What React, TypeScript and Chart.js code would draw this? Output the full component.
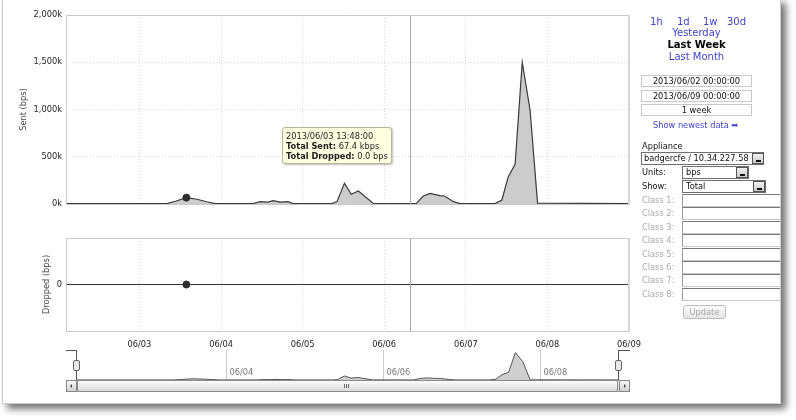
import React, { useEffect, useRef } from 'react';
import { Chart, registerables } from 'chart.js';

Chart.register(...registerables);

// ---------------- data ----------------
const dayLabels = ['06/02', '06/03', '06/04', '06/05', '06/06', '06/07', '06/08', '06/09'];
const dayTickHours = [24, 48, 72, 96, 120, 144, 168];
const navTickHours = [48, 96, 144];
const sentTicks = [0, 500, 1000, 1500, 2000];
const droppedTicks = [0];

// hours since 2013/06/02 00:00
const sentHours = [2.4, 32.1, 34.8, 37.8, 40.9, 43.8, 46.3, 57.4, 59.5, 61.8, 63.3, 65.4, 67.7, 69.2, 80.6, 82.1, 84.3, 86.3, 88.4, 92.8, 105.4, 107.5, 109.5, 112.4, 113.7, 116.4, 118.3, 128.6, 130.6, 132.5, 134.5, 136.6, 138.9, 141.1, 168];
// kbps
const sentKbps = [4, 4, 32, 67.4, 50, 24, 4, 4, 25, 20, 35, 20, 25, 4, 4, 25, 219, 103, 138, 7, 4, 85, 113, 88, 85, 25, 4, 4, 42, 289, 420, 1499, 995, 10, 4];

const droppedHours = [2.4, 168];
const droppedBps = [0, 0];

const hoverHour = 37.8;
const hoverSent = 67.4;
const hoverDropped = 0;
const cursorHour = 103.7;
const rangeStart = 2.4;
const rangeEnd = 168;

const timeLinks = ['1h', '1d', '1w', '30d'];
const periodLinks = ['Yesterday', 'Last Week', 'Last Month'];
const rangeBoxes = ['2013/06/02 00:00:00', '2013/06/09 00:00:00', '1 week'];
const classLabels = ['Class 1:', 'Class 2:', 'Class 3:', 'Class 4:', 'Class 5:', 'Class 6:', 'Class 7:', 'Class 8:'];

const FONT = '"DejaVu Sans", Verdana, sans-serif';

const framePlugin = {
  id: 'frame',
  afterDraw(chart: any) {
    const { ctx, chartArea: a } = chart;
    ctx.save();
    ctx.strokeStyle = '#c9c9c9';
    ctx.lineWidth = 1;
    ctx.beginPath();
    ctx.moveTo(Math.round(a.left) + 0.5, a.bottom);
    ctx.lineTo(Math.round(a.left) + 0.5, Math.round(a.top) + 0.5);
    ctx.lineTo(a.right, Math.round(a.top) + 0.5);
    ctx.stroke();
    ctx.beginPath();
    ctx.moveTo(a.left, Math.round(a.bottom) + 0.5);
    ctx.lineTo(a.right, Math.round(a.bottom) + 0.5);
    ctx.stroke();
    ctx.strokeStyle = '#d6d6d6';
    ctx.lineWidth = 2;
    ctx.beginPath();
    ctx.moveTo(Math.round(a.right), a.top);
    ctx.lineTo(Math.round(a.right), a.bottom + 1);
    ctx.stroke();
    ctx.restore();
  },
};

const cursorPlugin = {
  id: 'cursorLine',
  afterDatasetsDraw(chart: any) {
    const { ctx, chartArea: a, scales } = chart;
    const x = Math.round(scales.x.getPixelForValue(cursorHour)) + 0.5;
    ctx.save();
    ctx.strokeStyle = '#ababab';
    ctx.lineWidth = 1;
    ctx.beginPath();
    ctx.moveTo(x, a.top);
    ctx.lineTo(x, a.bottom);
    ctx.stroke();
    ctx.restore();
  },
};

const navPlugin = {
  id: 'navTicks',
  beforeDatasetsDraw(chart: any) {
    const { ctx, chartArea: a, scales } = chart;
    ctx.save();
    navTickHours.forEach((h) => {
      const px = Math.round(scales.x.getPixelForValue(h)) + 0.5;
      ctx.strokeStyle = '#cccccc';
      ctx.lineWidth = 1;
      ctx.beginPath();
      ctx.moveTo(px, a.top + 2);
      ctx.lineTo(px, a.bottom);
      ctx.stroke();
      ctx.fillStyle = '#7a7a7a';
      ctx.font = '8.25px ' + FONT;
      ctx.textBaseline = 'middle';
      ctx.fillText(dayLabels[h / 24], px + 3, a.top + 25);
    });
    ctx.restore();
  },
};

const pts = (xs: number[], ys: number[]) => xs.map((x, i) => ({ x, y: ys[i] }));

const dayGridX = (showLabels: boolean, bottomHeight: number) => ({
  type: 'linear' as const,
  min: rangeStart,
  max: rangeEnd,
  afterBuildTicks: (s: any) => {
    s.ticks = dayTickHours.map((v) => ({ value: v }));
  },
  afterFit: (s: any) => {
    s.height = bottomHeight;
  },
  ticks: {
    display: showLabels,
    autoSkip: false,
    maxRotation: 0,
    padding: 9,
    color: '#222',
    font: { family: FONT, size: 8.25 },
    callback: (v: any) => dayLabels[Math.round(v / 24)],
  },
  grid: { color: '#dadada', drawTicks: false, lineWidth: 1 },
  border: { display: false, dash: [1, 2] },
});

export default function App() {
  const topRef = useRef<HTMLCanvasElement>(null);
  const botRef = useRef<HTMLCanvasElement>(null);
  const navRef = useRef<HTMLCanvasElement>(null);

  useEffect(() => {
    const top = new Chart(topRef.current as HTMLCanvasElement, {
      type: 'line',
      data: {
        datasets: [
          {
            data: [{ x: hoverHour, y: hoverSent }],
            showLine: false,
            pointRadius: 3.5,
            pointBackgroundColor: '#2e2e2e',
            pointBorderColor: '#2e2e2e',
          },
          {
            data: pts(sentHours, sentKbps),
            fill: 'origin',
            backgroundColor: '#cccccc',
            borderColor: '#3a3a3a',
            borderWidth: 1.2,
            pointRadius: 0,
            tension: 0,
          },
        ],
      },
      options: {
        animation: false,
        responsive: false,
        events: [],
        layout: { padding: { top: 15, right: 21, left: 0, bottom: 0 } },
        plugins: { legend: { display: false }, tooltip: { enabled: false } },
        scales: {
          x: dayGridX(false, 11) as any,
          y: {
            min: 0,
            max: 2000,
            afterBuildTicks: (s: any) => {
              s.ticks = sentTicks.map((v) => ({ value: v }));
            },
            afterFit: (s: any) => {
              s.width = 66;
            },
            ticks: {
              padding: 4,
              color: '#222',
              font: { family: FONT, size: 8.25 },
              callback: (v: any) => Number(v).toLocaleString('en-US') + 'k',
            },
            grid: { color: '#dadada', drawTicks: false },
            border: { display: false, dash: [1, 2] },
            title: {
              display: true,
              text: 'Sent (bps)',
              color: '#444',
              font: { family: FONT, size: 8.25 },
              padding: { top: 19, bottom: 0 },
            },
          },
        },
      },
      plugins: [framePlugin, cursorPlugin],
    });

    const bot = new Chart(botRef.current as HTMLCanvasElement, {
      type: 'line',
      data: {
        datasets: [
          {
            data: [{ x: hoverHour, y: hoverDropped }],
            showLine: false,
            pointRadius: 3.5,
            pointBackgroundColor: '#2e2e2e',
            pointBorderColor: '#2e2e2e',
          },
          {
            data: pts(droppedHours, droppedBps),
            borderColor: '#333',
            borderWidth: 1.2,
            pointRadius: 0,
            fill: false,
          },
        ],
      },
      options: {
        animation: false,
        responsive: false,
        events: [],
        layout: { padding: { top: 18, right: 21, left: 0, bottom: 0 } },
        plugins: { legend: { display: false }, tooltip: { enabled: false } },
        scales: {
          x: dayGridX(true, 24) as any,
          y: {
            min: -1,
            max: 1,
            afterBuildTicks: (s: any) => {
              s.ticks = droppedTicks.map((v) => ({ value: v }));
            },
            afterFit: (s: any) => {
              s.width = 66;
            },
            ticks: {
              padding: 4,
              color: '#222',
              font: { family: FONT, size: 8.25 },
              callback: (v: any) => String(v),
            },
            grid: { color: '#dadada', drawTicks: false },
            border: { display: false, dash: [1, 2] },
            title: {
              display: true,
              text: 'Dropped (bps)',
              color: '#444',
              font: { family: FONT, size: 8.25 },
              padding: { top: 42, bottom: 0 },
            },
          },
        },
      },
      plugins: [framePlugin, cursorPlugin],
    });

    const nav = new Chart(navRef.current as HTMLCanvasElement, {
      type: 'line',
      data: {
        datasets: [
          {
            data: pts(sentHours, sentKbps),
            fill: 'origin',
            backgroundColor: '#cfcfcf',
            borderColor: '#555',
            borderWidth: 1,
            pointRadius: 0,
            tension: 0,
          },
        ],
      },
      options: {
        animation: false,
        responsive: false,
        events: [],
        layout: { padding: 0 },
        plugins: { legend: { display: false }, tooltip: { enabled: false } },
        scales: {
          x: { type: 'linear', display: false, min: rangeStart, max: rangeEnd },
          y: { display: false, min: 0, max: 1750 },
        },
      },
      plugins: [navPlugin],
    });

    return () => {
      top.destroy();
      bot.destroy();
      nav.destroy();
    };
  }, []);

  const abs = (l: number, t: number, extra: any = {}) => ({ position: 'absolute' as const, left: l, top: t, ...extra });
  const small = { fontSize: '8.25px', lineHeight: '10px', whiteSpace: 'nowrap' as const };
  const linkColor = '#4242c6';

  const DropBtn = ({ l, t }: { l: number; t: number }) => (
    <div
      style={abs(l, t, {
        width: 12,
        height: 11,
        boxSizing: 'border-box',
        border: '1px solid #555',
        background: 'linear-gradient(#f2f2f2, #c9c9c9)',
      })}
    >
      <div style={abs(3, 6, { width: 5, height: 2, background: '#111' })} />
    </div>
  );

  return (
    <div
      style={{
        position: 'fixed',
        left: 0,
        top: 0,
        width: 796,
        height: 420,
        overflow: 'hidden',
        background: '#fff',
        fontFamily: FONT,
        color: '#111',
      }}
    >
      <div
        style={abs(2, -2, {
          width: 777,
          height: 404,
          border: '1px solid #cdcdcd',
          background: '#fff',
          boxShadow: '5px 5px 7px rgba(0,0,0,0.55)',
        })}
      />
      <canvas ref={topRef} width={650} height={215} style={abs(0, 0, { width: 650, height: 215 })} />
      <canvas ref={botRef} width={650} height={135} style={abs(0, 220, { width: 650, height: 135 })} />
      <canvas ref={navRef} width={541} height={32} style={abs(77, 348, { width: 541, height: 32 })} />

      {/* navigator brackets */}
      <div style={abs(66, 350, { width: 11, height: 1, background: '#555' })} />
      <div style={abs(76, 350, { width: 1, height: 31, background: '#555' })} />
      <div style={abs(73, 360, { width: 7, height: 11, boxSizing: 'border-box', border: '1px solid #666', borderRadius: 2, background: '#e8e8e8' })} />
      <div style={abs(618, 350, { width: 12, height: 1, background: '#555' })} />
      <div style={abs(618, 350, { width: 1, height: 31, background: '#555' })} />
      <div style={abs(615, 360, { width: 7, height: 11, boxSizing: 'border-box', border: '1px solid #666', borderRadius: 2, background: '#e8e8e8' })} />

      {/* scrollbar */}
      <div style={abs(66, 380, { width: 564, height: 12, boxSizing: 'border-box', border: '1px solid #9a9a9a', background: 'linear-gradient(#f3f3f3, #d6d6d6)' })} />
      <div style={abs(66, 380, { width: 11, height: 12, boxSizing: 'border-box', border: '1px solid #888', borderRadius: 2, background: 'linear-gradient(#fafafa, #d0d0d0)' })}>
        <div style={abs(3, 3, { width: 0, height: 0, borderTop: '2px solid transparent', borderBottom: '2px solid transparent', borderRight: '2px solid #444' })} />
      </div>
      <div style={abs(77, 380, { width: 541, height: 12, boxSizing: 'border-box', border: '1px solid #8a8a8a', borderRadius: 2, background: 'linear-gradient(#fcfcfc, #dadada)' })}>
        <div style={abs(266, 3, { width: 1, height: 4, background: '#666' })} />
        <div style={abs(268, 3, { width: 1, height: 4, background: '#666' })} />
        <div style={abs(270, 3, { width: 1, height: 4, background: '#666' })} />
      </div>
      <div style={abs(619, 380, { width: 11, height: 12, boxSizing: 'border-box', border: '1px solid #888', borderRadius: 2, background: 'linear-gradient(#fafafa, #d0d0d0)' })}>
        <div style={abs(4, 3, { width: 0, height: 0, borderTop: '2px solid transparent', borderBottom: '2px solid transparent', borderLeft: '2px solid #444' })} />
      </div>

      {/* tooltip */}
      <div
        style={abs(282, 127, {
          width: 110,
          height: 37,
          boxSizing: 'border-box',
          border: '1px solid #b9b596',
          borderRadius: 3,
          background: '#ffffe2',
          boxShadow: '1px 1px 2px rgba(0,0,0,0.25)',
          padding: '3px 0 0 3px',
          ...small,
          color: '#222',
        })}
      >
        <div>2013/06/03 13:48:00</div>
        <div>
          <b>Total Sent:</b> {hoverSent.toFixed(1)} kbps
        </div>
        <div>
          <b>Total Dropped:</b> {hoverDropped.toFixed(1)} bps
        </div>
      </div>

      {/* right panel */}
      {timeLinks.map((t, i) => (
        <div key={t} style={abs([650, 677, 703, 727][i], 16, { fontSize: 10, lineHeight: '12px', color: linkColor, whiteSpace: 'nowrap' })}>
          {t}
        </div>
      ))}
      {periodLinks.map((t, i) => (
        <div
          key={t}
          style={abs(641, 27 + i * 12, {
            width: 111,
            textAlign: 'center',
            fontSize: 10,
            lineHeight: '12px',
            color: t === 'Last Week' ? '#000' : linkColor,
            fontWeight: t === 'Last Week' ? 'bold' : 'normal',
            whiteSpace: 'nowrap',
          })}
        >
          {t}
        </div>
      ))}
      {rangeBoxes.map((t, i) => (
        <div
          key={t}
          style={abs(641, 75 + i * 14.7, {
            width: 111,
            height: 12,
            boxSizing: 'border-box',
            border: '1px solid #c8c8c8',
            textAlign: 'center',
            ...small,
            color: '#111',
          })}
        >
          {t}
        </div>
      ))}
      <div style={abs(653, 120, { ...small, color: linkColor })}>Show newest data ➡</div>

      <div style={abs(642, 141, { ...small, color: '#111' })}>Appliance</div>
      <div style={abs(641, 152, { width: 123, height: 13, boxSizing: 'border-box', border: '1px solid #6f6f6f', ...small, lineHeight: '11px', paddingLeft: 2 })}>
        badgercfe / 10.34.227.58
      </div>
      <DropBtn l={752} t={153} />

      <div style={abs(642, 167, { ...small, color: '#111' })}>Units:</div>
      <div style={abs(682, 166, { width: 67, height: 13, boxSizing: 'border-box', border: '1px solid #6f6f6f', ...small, lineHeight: '11px', paddingLeft: 3 })}>bps</div>
      <DropBtn l={736} t={167} />

      <div style={abs(642, 181, { ...small, color: '#111' })}>Show:</div>
      <div style={abs(682, 180, { width: 84, height: 13, boxSizing: 'border-box', border: '1px solid #6f6f6f', ...small, lineHeight: '11px', paddingLeft: 3 })}>Total</div>
      <DropBtn l={753} t={181} />

      {classLabels.map((c, i) => (
        <React.Fragment key={c}>
          <div style={abs(642, 195 + i * 13.4, { ...small, color: '#ababab' })}>{c}</div>
          <div
            style={abs(682, 194 + i * 13.4, {
              width: 98,
              height: 13,
              boxSizing: 'border-box',
              borderTop: '1px solid #7a7a7a',
              borderLeft: '1px solid #9a9a9a',
              borderBottom: '1px solid #c8c8c8',
              background: '#fff',
            })}
          />
        </React.Fragment>
      ))}
      <div
        style={abs(683, 305, {
          width: 43,
          height: 14,
          boxSizing: 'border-box',
          border: '1px solid #bcbcbc',
          borderRadius: 3,
          background: 'linear-gradient(#fdfdfd, #e6e6e6)',
          textAlign: 'center',
          ...small,
          lineHeight: '12px',
          color: '#a8a8a8',
        })}
      >
        Update
      </div>
      {/* panel right edge over class inputs */}
      <div style={abs(780, 0, { width: 1, height: 404, background: '#cdcdcd' })} />
    </div>
  );
}
